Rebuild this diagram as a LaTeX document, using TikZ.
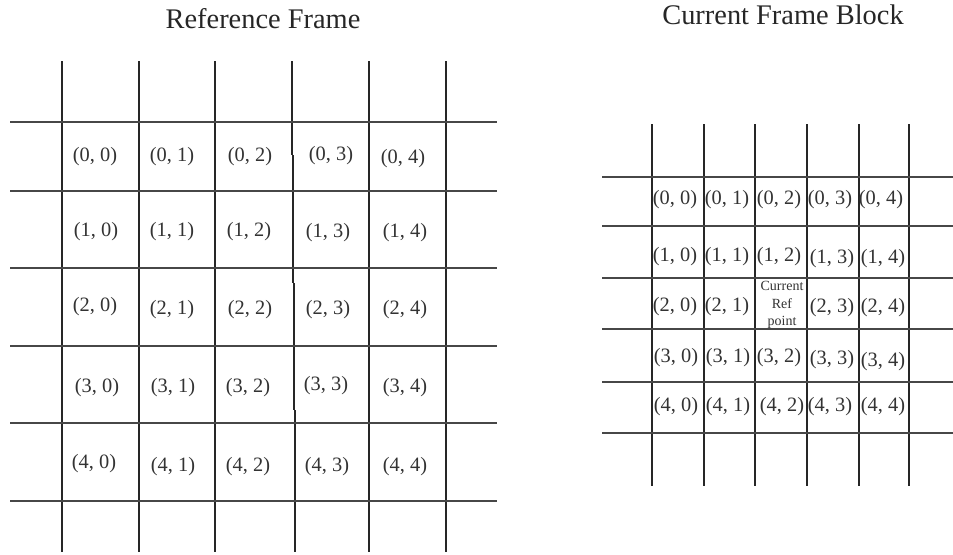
\documentclass[tikz,border=0pt]{standalone}
\usepackage{fontspec}
\setmainfont{Liberation Serif}
\begin{document}
\begin{tikzpicture}[x=0.5pt,y=-0.5pt,
  vline/.style={line width=1pt,draw=black!85},
  hline/.style={line width=1pt,draw=black!72},
  lab/.style={font=\fontsize{10.2}{12}\selectfont,inner sep=0pt,text=black!80},
  small/.style={font=\fontsize{7}{8.6}\selectfont,inner sep=0pt,align=center,text=black!80},
  ttl/.style={font=\fontsize{14.2}{17}\selectfont,inner sep=0pt,anchor=base,text=black!85}]
\useasboundingbox (0,0) rectangle (953,554);
% titles
\node[ttl] (t1) at (263,28) {Reference Frame};
\node[ttl] (t2) at (783,24) {Current Frame Block};
% left grid
\foreach \x in {61.5,138.5,215,369,446} \draw[vline] (\x,61) -- (\x,552);
\draw[vline] (292,61) -- (292,155);
\draw[vline] (293,155) -- (293,283);
\draw[vline] (294,283) -- (294,410);
\draw[vline] (295,410) -- (295,552);
\foreach \y in {122,191,268,346,423,501} \draw[hline] (10,\y) -- (497,\y);
% left labels
\node[lab] (a00) at (95,157) {(0, 0)};
\node[lab] (a01) at (172,157) {(0, 1)};
\node[lab] (a02) at (250,157) {(0, 2)};
\node[lab] (a03) at (331,156) {(0, 3)};
\node[lab] (a04) at (403,159) {(0, 4)};
\node[lab] (a10) at (96,232) {(1, 0)};
\node[lab] (a11) at (172,232) {(1, 1)};
\node[lab] (a12) at (249,232) {(1, 2)};
\node[lab] (a13) at (328,233) {(1, 3)};
\node[lab] (a14) at (405,233) {(1, 4)};
\node[lab] (a20) at (95,307) {(2, 0)};
\node[lab] (a21) at (172,310) {(2, 1)};
\node[lab] (a22) at (250,310) {(2, 2)};
\node[lab] (a23) at (328,310) {(2, 3)};
\node[lab] (a24) at (405,310) {(2, 4)};
\node[lab] (a30) at (97,388) {(3, 0)};
\node[lab] (a31) at (173,388) {(3, 1)};
\node[lab] (a32) at (248,388) {(3, 2)};
\node[lab] (a33) at (326,386) {(3, 3)};
\node[lab] (a34) at (405,388) {(3, 4)};
\node[lab] (a40) at (94,464) {(4, 0)};
\node[lab] (a41) at (173,467) {(4, 1)};
\node[lab] (a42) at (248,467) {(4, 2)};
\node[lab] (a43) at (327,467) {(4, 3)};
\node[lab] (a44) at (405,467) {(4, 4)};
% right grid
\foreach \x in {652,704,755,807,859,909} \draw[vline] (\x,124) -- (\x,486);
\foreach \y in {177,226,278,329,382,433} \draw[hline] (602,\y) -- (953,\y);
% right labels
\node[lab] (b00) at (675,200) {(0, 0)};
\node[lab] (b01) at (727,200) {(0, 1)};
\node[lab] (b02) at (779,200) {(0, 2)};
\node[lab] (b03) at (830,200) {(0, 3)};
\node[lab] (b04) at (881,200) {(0, 4)};
\node[lab] (b10) at (675,257) {(1, 0)};
\node[lab] (b11) at (727,257) {(1, 1)};
\node[lab] (b12) at (779,257) {(1, 2)};
\node[lab] (b13) at (832,259) {(1, 3)};
\node[lab] (b14) at (883,259) {(1, 4)};
\node[lab] (b20) at (675,307) {(2, 0)};
\node[lab] (b21) at (727,307) {(2, 1)};
\node[small] (b22) at (782,305) {Current\\Ref\\point};
\node[lab] (b23) at (832,308) {(2, 3)};
\node[lab] (b24) at (883,308) {(2, 4)};
\node[lab] (b30) at (676,358) {(3, 0)};
\node[lab] (b31) at (728,358) {(3, 1)};
\node[lab] (b32) at (779,358) {(3, 2)};
\node[lab] (b33) at (832,360) {(3, 3)};
\node[lab] (b34) at (883,362) {(3, 4)};
\node[lab] (b40) at (676,407) {(4, 0)};
\node[lab] (b41) at (728,407) {(4, 1)};
\node[lab] (b42) at (782,407) {(4, 2)};
\node[lab] (b43) at (830,407) {(4, 3)};
\node[lab] (b44) at (883,407) {(4, 4)};
\end{tikzpicture}
\end{document}
